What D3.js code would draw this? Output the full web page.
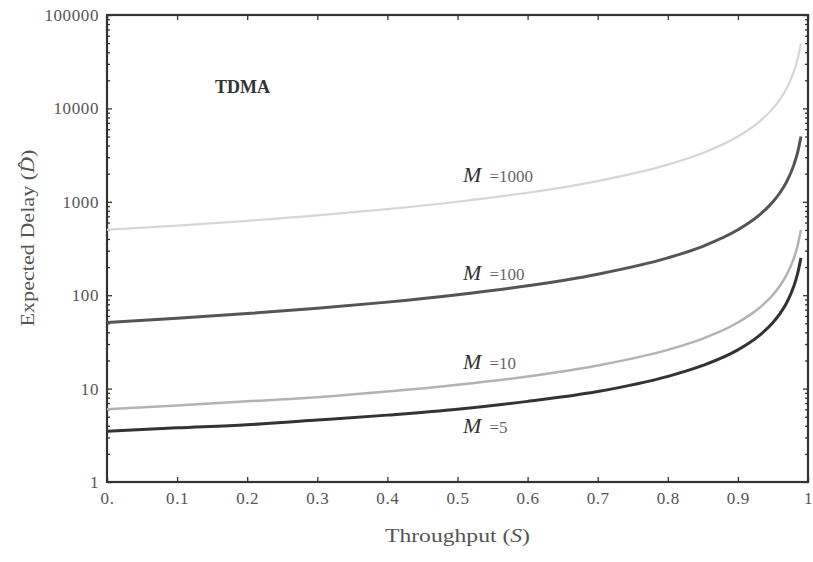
<!DOCTYPE html>
<html>
<head>
<meta charset="utf-8">
<script src="https://cdn.jsdelivr.net/npm/d3@7"></script>
<style>
  body { margin: 0; background: #fff; }
  svg text { font-family: "Liberation Serif", "DejaVu Serif", serif; }
</style>
</head>
<body>
<div id="chart"></div>
<script>
// throughput samples (S)
const throughput = [0, 0.1, 0.2, 0.3, 0.4, 0.5, 0.6, 0.7, 0.8, 0.85, 0.9, 0.93, 0.95, 0.96, 0.97, 0.98, 0.985, 0.99];

// expected delay, one array per M
const delayM5 = [3.5, 3.8, 4.1, 4.6, 5.2, 6, 7.3, 9.3, 13.5, 17.7, 26, 36.7, 51, 63.5, 84, 126, 168, 251];
const delayM10 = [6, 6.6, 7.3, 8.1, 9.3, 11, 13.5, 17.7, 26, 34.3, 51, 72.4, 101, 126, 168, 251, 334, 501];
const delayM100 = [51, 56.6, 63.5, 72.4, 84.3, 101, 126, 168, 251, 334, 501, 715, 1001, 1251, 1668, 2501, 3334, 5001];
const delayM1000 = [501, 556, 626, 715, 834, 1001, 1251, 1668, 2501, 3334, 5001, 7144, 10001, 12501, 16668, 25001, 33334, 50001];

const xTicks = [0, 0.1, 0.2, 0.3, 0.4, 0.5, 0.6, 0.7, 0.8, 0.9, 1];
const yTicks = [1, 10, 100, 1000, 10000, 100000];

const series = [
  { name: "1000", values: delayM1000, color: "#d6d6d6", width: 2.2, labelS: 0.508, labelD: 1630 },
  { name: "100", values: delayM100, color: "#555", width: 3, labelS: 0.508, labelD: 145 },
  { name: "10", values: delayM10, color: "#b3b3b3", width: 2.5, labelS: 0.508, labelD: 16.2 },
  { name: "5", values: delayM5, color: "#333", width: 3, labelS: 0.508, labelD: 3.35 }
];

const width = 813, height = 562;
const margin = { top: 15, right: 5, bottom: 80, left: 107 };
const innerWidth = width - margin.left - margin.right;
const innerHeight = height - margin.top - margin.bottom;

const svg = d3.select("#chart").append("svg")
  .attr("width", width)
  .attr("height", height);

const g = svg.append("g")
  .attr("transform", `translate(${margin.left}, ${margin.top})`);

const xScale = d3.scaleLinear().domain([0, 1]).range([0, innerWidth]);
const yScale = d3.scaleLog().domain([1, 100000]).range([innerHeight, 0]);

// minor log ticks
const minorTicks = [];
for (let dec = 1; dec < 100000; dec *= 10) {
  for (let k = 2; k <= 9; k++) minorTicks.push(dec * k);
}

const tickColor = "#333";
const labelColor = "#555";

// bottom axis
g.append("g")
  .attr("transform", `translate(0, ${innerHeight})`)
  .call(d3.axisBottom(xScale).tickValues(xTicks).tickSize(-5).tickPadding(10)
    .tickFormat(d => d === 0 ? "0." : d === 1 ? "1" : d3.format(".1f")(d)));

// top axis ticks
g.append("g")
  .call(d3.axisTop(xScale).tickValues(xTicks).tickSize(-5).tickFormat(""));

// left axis
g.append("g")
  .call(d3.axisLeft(yScale).tickValues(yTicks).tickSize(-5).tickPadding(8)
    .tickFormat(d3.format("d")));

g.append("g")
  .call(d3.axisLeft(yScale).tickValues(minorTicks).tickSize(-3).tickFormat(""));

// right axis ticks
g.append("g")
  .attr("transform", `translate(${innerWidth}, 0)`)
  .call(d3.axisRight(yScale).tickValues(yTicks).tickSize(-5).tickFormat(""));
g.append("g")
  .attr("transform", `translate(${innerWidth}, 0)`)
  .call(d3.axisRight(yScale).tickValues(minorTicks).tickSize(-3).tickFormat(""));

g.selectAll(".domain").remove();
g.selectAll(".tick line").attr("stroke", tickColor).attr("stroke-width", 1.3);
g.selectAll(".tick text")
  .attr("fill", labelColor)
  .attr("font-family", "'Liberation Serif', serif")
  .attr("font-size", 17)
  .attr("letter-spacing", 0.6);

// frame
g.append("rect")
  .attr("width", innerWidth)
  .attr("height", innerHeight)
  .attr("fill", "none")
  .attr("stroke", "#333")
  .attr("stroke-width", 2.2);

// curves
const line = d3.line()
  .x((d, i) => xScale(throughput[i]))
  .y(d => yScale(d))
  .curve(d3.curveMonotoneX);

g.selectAll(".curve")
  .data(series)
  .join("path")
  .attr("class", "curve")
  .attr("fill", "none")
  .attr("stroke", d => d.color)
  .attr("stroke-width", d => d.width)
  .attr("d", d => line(d.values));

// curve labels
const labels = g.selectAll(".curve-label")
  .data(series)
  .join("text")
  .attr("class", "curve-label")
  .attr("x", d => xScale(d.labelS))
  .attr("y", d => yScale(d.labelD));

labels.append("tspan")
  .attr("font-style", "italic")
  .attr("font-size", 22)
  .attr("fill", "#333")
  .text("M");
labels.append("tspan")
  .attr("dx", 8)
  .attr("font-size", 17)
  .attr("fill", "#666")
  .text(d => "=" + d.name);

// title
g.append("text")
  .attr("x", xScale(0.154))
  .attr("y", yScale(14600))
  .attr("font-weight", "bold")
  .attr("font-size", 18)
  .attr("fill", "#333")
  .text("TDMA");

// axis titles
const xTitle = svg.append("text")
  .attr("x", margin.left + xScale(0.5))
  .attr("y", 542)
  .attr("text-anchor", "middle")
  .attr("font-size", 19)
  .attr("textLength", 145)
  .attr("lengthAdjust", "spacingAndGlyphs")
  .attr("fill", "#555");
xTitle.append("tspan").text("Throughput (");
xTitle.append("tspan").attr("font-style", "italic").text("S");
xTitle.append("tspan").text(")");

const yTitle = svg.append("text")
  .attr("transform", `translate(34, 238) rotate(-90)`)
  .attr("text-anchor", "middle")
  .attr("font-size", 18)
  .attr("textLength", 177)
  .attr("lengthAdjust", "spacingAndGlyphs")
  .attr("fill", "#555");
yTitle.append("tspan").text("Expected Delay (");
yTitle.append("tspan").attr("font-style", "italic").text("D\u0302");
yTitle.append("tspan").text(")");
</script>
</body>
</html>
